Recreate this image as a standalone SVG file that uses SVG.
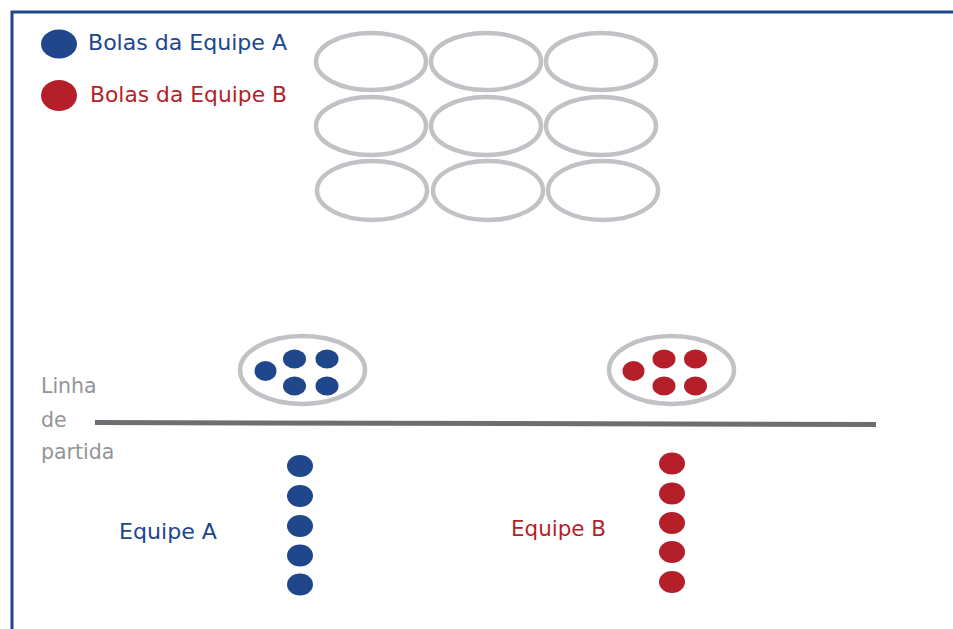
<svg xmlns="http://www.w3.org/2000/svg" width="953" height="629" viewBox="0 0 953 629">
  <style>
    .ring { fill: none; stroke: #c1c2c6; stroke-width: 4.5; }
    .a { fill: #20468c; }
    .b { fill: #b41f29; }
    .lbl { font-family: "DejaVu Sans", "Liberation Sans", Arial, sans-serif; font-size: 21px; }
    .ta { fill: #20468c; }
    .tb { fill: #b41f29; }
    .tg { fill: #939598; font-size: 20.5px; }
    .team { font-size: 22px; }
  </style>
  <rect x="0" y="0" width="953" height="629" fill="#ffffff"/>
  <!-- frame -->
  <path d="M12 629 V12 H953" fill="none" stroke="#20468c" stroke-width="3"/>

  <!-- legend -->
  <g id="legend-a">
    <ellipse class="a" cx="59" cy="44" rx="18" ry="14.5"/>
    <text class="lbl ta" x="88" y="49.5" textLength="199" lengthAdjust="spacingAndGlyphs">Bolas da Equipe A</text>
  </g>
  <g id="legend-b">
    <ellipse class="b" cx="59" cy="95.5" rx="18" ry="15.5"/>
    <text class="lbl tb" x="90" y="101.5" textLength="197" lengthAdjust="spacingAndGlyphs">Bolas da Equipe B</text>
  </g>

  <!-- target grid -->
  <g id="grid">
    <ellipse class="ring" cx="371" cy="61.5" rx="55" ry="28.5"/>
    <ellipse class="ring" cx="486" cy="61.5" rx="55" ry="28.5"/>
    <ellipse class="ring" cx="601" cy="61.5" rx="55" ry="28.5"/>
    <ellipse class="ring" cx="371" cy="126" rx="55" ry="29"/>
    <ellipse class="ring" cx="486" cy="126" rx="55" ry="29"/>
    <ellipse class="ring" cx="601" cy="126" rx="55" ry="29"/>
    <ellipse class="ring" cx="372" cy="190.5" rx="55" ry="29.5"/>
    <ellipse class="ring" cx="488" cy="190.5" rx="55" ry="29.5"/>
    <ellipse class="ring" cx="603" cy="190.5" rx="55" ry="29.5"/>
  </g>

  <!-- ball baskets -->
  <g id="basket-a">
    <ellipse class="ring" cx="302.5" cy="370" rx="62.5" ry="34"/>
    <ellipse class="a" cx="265.5" cy="371" rx="11" ry="10"/>
    <ellipse class="a" cx="294.5" cy="359" rx="11.5" ry="9.5"/>
    <ellipse class="a" cx="327" cy="359" rx="11.5" ry="9.5"/>
    <ellipse class="a" cx="294.5" cy="386" rx="11.5" ry="9.5"/>
    <ellipse class="a" cx="327" cy="386" rx="11.5" ry="9.5"/>
  </g>
  <g id="basket-b">
    <ellipse class="ring" cx="671.5" cy="370" rx="62.5" ry="34"/>
    <ellipse class="b" cx="633.5" cy="371" rx="11" ry="10"/>
    <ellipse class="b" cx="664" cy="359" rx="11.5" ry="9.5"/>
    <ellipse class="b" cx="695.5" cy="359" rx="11.5" ry="9.5"/>
    <ellipse class="b" cx="664" cy="386" rx="11.5" ry="9.5"/>
    <ellipse class="b" cx="695.5" cy="386" rx="11.5" ry="9.5"/>
  </g>

  <!-- start line -->
  <g id="start-line">
    <line x1="95" y1="422.5" x2="876" y2="424.5" stroke="#6d6e71" stroke-width="5"/>
    <text class="lbl tg" x="41" y="393">Linha</text>
    <text class="lbl tg" x="41" y="427">de</text>
    <text class="lbl tg" x="41" y="459">partida</text>
  </g>

  <!-- teams -->
  <g id="team-a">
    <ellipse class="a" cx="300" cy="466" rx="13" ry="11"/>
    <ellipse class="a" cx="300" cy="496" rx="13" ry="11"/>
    <ellipse class="a" cx="300" cy="526" rx="13" ry="11"/>
    <ellipse class="a" cx="300" cy="555.5" rx="13" ry="11"/>
    <ellipse class="a" cx="300" cy="584.5" rx="13" ry="11"/>
    <text class="lbl ta team" x="119" y="539" textLength="98" lengthAdjust="spacingAndGlyphs">Equipe A</text>
  </g>
  <g id="team-b">
    <ellipse class="b" cx="672" cy="463.5" rx="13" ry="11"/>
    <ellipse class="b" cx="672" cy="493.5" rx="13" ry="11"/>
    <ellipse class="b" cx="672" cy="523" rx="13" ry="11"/>
    <ellipse class="b" cx="672" cy="552" rx="13" ry="11"/>
    <ellipse class="b" cx="672" cy="582" rx="13" ry="11"/>
    <text class="lbl tb team" x="511" y="536" textLength="95" lengthAdjust="spacingAndGlyphs">Equipe B</text>
  </g>
</svg>
